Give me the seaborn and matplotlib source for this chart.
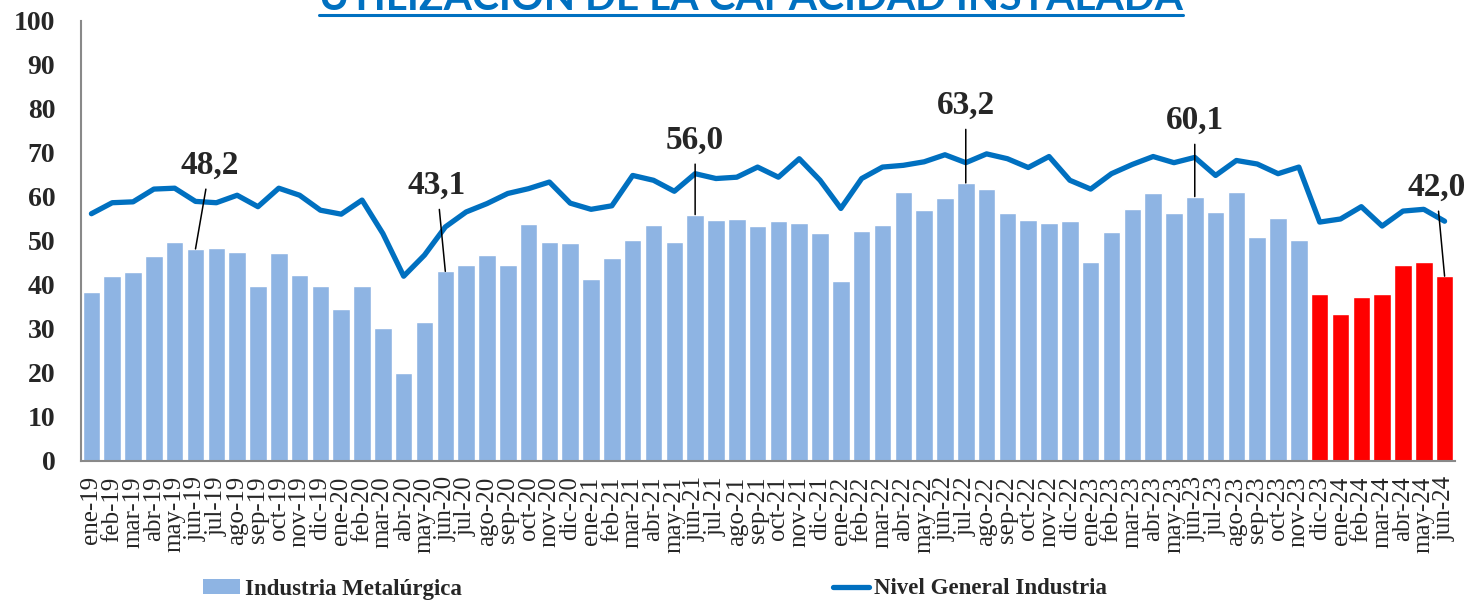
import numpy as np
import pandas as pd
import matplotlib
matplotlib.use("Agg")
import matplotlib.pyplot as plt
from matplotlib.patches import Patch
from matplotlib.lines import Line2D
import seaborn as sns

# datos
meses = ["ene-19", "feb-19", "mar-19", "abr-19", "may-19", "jun-19", "jul-19", "ago-19", "sep-19", "oct-19", "nov-19", "dic-19",
         "ene-20", "feb-20", "mar-20", "abr-20", "may-20", "jun-20", "jul-20", "ago-20", "sep-20", "oct-20", "nov-20", "dic-20",
         "ene-21", "feb-21", "mar-21", "abr-21", "may-21", "jun-21", "jul-21", "ago-21", "sep-21", "oct-21", "nov-21", "dic-21",
         "ene-22", "feb-22", "mar-22", "abr-22", "may-22", "jun-22", "jul-22", "ago-22", "sep-22", "oct-22", "nov-22", "dic-22",
         "ene-23", "feb-23", "mar-23", "abr-23", "may-23", "jun-23", "jul-23", "ago-23", "sep-23", "oct-23", "nov-23", "dic-23",
         "ene-24", "feb-24", "mar-24", "abr-24", "may-24", "jun-24"]

metalurgica = [38.3, 42.0, 43.0, 46.7, 49.8, 48.2, 48.4, 47.4, 39.8, 47.3, 42.2, 39.8,
               34.5, 39.7, 30.3, 20.0, 31.7, 43.1, 44.5, 46.8, 44.6, 53.9, 49.8, 49.6,
               41.3, 46.2, 50.2, 53.6, 49.7, 56.0, 54.7, 55.1, 53.5, 54.6, 54.1, 51.8,
               41.0, 52.3, 53.6, 61.1, 57.1, 59.8, 63.2, 61.8, 56.3, 54.7, 54.2, 54.5,
               45.2, 52.1, 57.2, 61.0, 56.3, 60.1, 56.5, 61.1, 51.0, 55.3, 50.2, 38.0,
               33.4, 37.3, 38.0, 44.6, 45.3, 42.0]

nivel_general = [56.2, 58.7, 58.9, 61.8, 62.0, 59.0, 58.7, 60.4, 57.8, 62.0, 60.4, 57.0,
                 56.1, 59.3, 51.7, 42.0, 46.8, 53.2, 56.6, 58.5, 60.8, 61.9, 63.4, 58.6,
                 57.2, 58.0, 64.9, 63.8, 61.3, 65.3, 64.2, 64.5, 66.8, 64.5, 68.7, 63.8,
                 57.4, 64.2, 66.8, 67.2, 68.0, 69.6, 67.8, 69.8, 68.7, 66.7, 69.2, 63.8,
                 61.8, 65.3, 67.4, 69.2, 67.8, 69.0, 64.9, 68.3, 67.5, 65.3, 66.8, 54.3,
                 55.0, 57.8, 53.4, 56.8, 57.2, 54.5]

# meses destacados en rojo
destacados = ["dic-23", "ene-24", "feb-24", "mar-24", "abr-24", "may-24", "jun-24"]

# etiquetas: mes, posicion del texto (desplazamiento en x, altura en y)
etiquetas = ["jun-19", "jun-20", "jun-21", "jul-22", "jun-23", "jun-24"]
etiq_dx = [0.7, -0.4, 0.0, 0.0, 0.0, -0.4]
etiq_y = [67.3, 62.7, 73.0, 80.9, 77.5, 62.3]

AZUL_BARRA = "#8EB4E3"
ROJO = "#FF0000"
AZUL_LINEA = "#0070C0"
GRIS = "#898989"

df = pd.DataFrame({"mes": meses, "metal": metalurgica, "general": nivel_general})
df["pos"] = np.arange(len(df))
df["grupo"] = np.where(df["mes"].isin(destacados), "rojo", "azul")

sns.set_style("white")
plt.rcParams["font.family"] = ["Liberation Serif", "DejaVu Serif"]

fig = plt.figure(figsize=(14.68, 6.04), dpi=100)
ax = fig.add_axes([81 / 1468, 1 - 461 / 604, (1455 - 81) / 1468, 440 / 604])

sns.barplot(data=df, x="pos", y="metal", hue="grupo", palette={"azul": AZUL_BARRA, "rojo": ROJO},
            dodge=False, width=0.84, legend=False, ax=ax, native_scale=True, saturation=1)
sns.lineplot(x=df["pos"], y=df["general"], color=AZUL_LINEA, linewidth=3.8, ax=ax,
             solid_joinstyle="round", solid_capstyle="round")

ax.set_xlim(-0.5, len(df) - 0.5)
ax.set_ylim(0, 100)
ax.set_yticks(range(0, 101, 10))
ax.set_yticklabels([str(v) for v in range(0, 101, 10)], fontsize=20, fontweight="bold")
ax.set_xticks(df["pos"])
ax.set_xticklabels(meses, rotation=90, fontsize=18)
ax.set_xticks(np.arange(-0.5, len(df)), minor=True)
ax.tick_params(axis="x", which="major", length=0, pad=11)
ax.tick_params(axis="x", which="minor", length=5.5, width=1.2, color=GRIS)
ax.tick_params(axis="y", length=6.5, width=1.2, color=GRIS, pad=12)
ax.set_xlabel("")
ax.set_ylabel("")
for lado in ["top", "right"]:
    ax.spines[lado].set_visible(False)
for lado in ["left", "bottom"]:
    ax.spines[lado].set_color(GRIS)
    ax.spines[lado].set_linewidth(1.5)

for mes, dx, ty in zip(etiquetas, etiq_dx, etiq_y):
    i = meses.index(mes)
    v = metalurgica[i]
    ax.annotate(f"{v:.1f}".replace(".", ","), xy=(i, v), xytext=(i + dx, ty),
                ha="center", va="center", fontsize=24, fontweight="bold",
                arrowprops=dict(arrowstyle="-", color="black", lw=1.1, shrinkA=4, shrinkB=0))

# titulo (cortado arriba como en el original)
titulo = fig.text(751 / 1468, 1 - 10 / 604, "UTILIZACIÓN DE LA CAPACIDAD INSTALADA", ha="center",
                  va="baseline", fontsize=29.3, fontweight="bold", color=AZUL_LINEA,
                  family=["Lato", "DejaVu Sans"])
fig.canvas.draw()
bb = titulo.get_window_extent().transformed(fig.transFigure.inverted())
fig.add_artist(Line2D([bb.x0, bb.x1], [1 - 15 / 604, 1 - 15 / 604], color=AZUL_LINEA,
                      lw=2.2, transform=fig.transFigure))

handles = [Patch(facecolor=AZUL_BARRA, edgecolor="none"), Line2D([0], [0], color=AZUL_LINEA, lw=3.8)]
fig.legend(handles, ["Industria Metalúrgica", "Nivel General Industria"], loc="center",
           bbox_to_anchor=(655 / 1468, 1 - 589 / 604), ncol=2, frameon=False,
           prop={"family": "Liberation Serif", "weight": "bold", "size": 16.5},
           handlelength=1.6, handleheight=0.6, handletextpad=0.2, columnspacing=16.2)

fig.savefig("out.png", dpi=100)
